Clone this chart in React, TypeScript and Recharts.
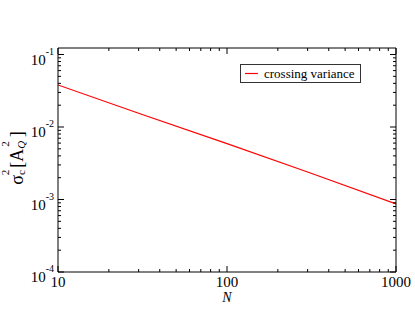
import React from "react";
import { LineChart, Line, XAxis, YAxis, Legend } from "recharts";

// crossing variance vs N (log-log)
const nValues = [10, 30, 100, 300, 1000];
const crossingVariance = [0.038, 0.0155, 0.0059, 0.0024, 0.00087];

const xMajor = [10, 100, 1000];
const yMajor = [1e-4, 1e-3, 1e-2, 1e-1];
const yExponents = ["-4", "-3", "-2", "-1"];
const seriesName = "crossing variance";

const data = nValues.map((n, i) => ({ n, variance: crossingVariance[i] }));

const withMinor = (majors: number[]) => {
  const out: number[] = [];
  majors.forEach((d, i) => {
    out.push(d);
    if (i < majors.length - 1) {
      for (let k = 2; k <= 9; k++) out.push(k * d);
    }
  });
  return out;
};

const xTicks = withMinor(xMajor);
const yTicks = withMinor(yMajor);
const xDomain = [10, 1000];
const yDomain = [1e-4, 0.123];

const isMajor = (v: number) =>
  Math.abs(Math.log10(v) - Math.round(Math.log10(v))) < 1e-9;

const FONT = "'Liberation Serif', 'Times New Roman', serif";
const MAJOR = 6;
const MINOR = 3;

const BottomTick = ({ x, y, payload }: any) => {
  const major = isMajor(payload.value);
  return (
    <g>
      <line x1={x} x2={x} y1={y} y2={y - (major ? MAJOR : MINOR)} stroke="#000" />
      {major && (
        <text x={x} y={y + 15} textAnchor="middle" fontSize={15} fontFamily={FONT} fill="#000">
          {payload.value}
        </text>
      )}
    </g>
  );
};

const TopTick = ({ x, y, payload }: any) => {
  const major = isMajor(payload.value);
  return <line x1={x} x2={x} y1={y} y2={y + (major ? MAJOR : MINOR)} stroke="#000" />;
};

const LeftTick = ({ x, y, payload }: any) => {
  const major = isMajor(payload.value);
  const idx = yMajor.findIndex((m) => Math.abs(Math.log10(m) - Math.log10(payload.value)) < 1e-9);
  return (
    <g>
      <line x1={x} x2={x + (major ? MAJOR : MINOR)} y1={y} y2={y} stroke="#000" />
      {major && (
        <text x={x - 4} y={y + 10} textAnchor="end" fontSize={15} fontFamily={FONT} fill="#000">
          10
          <tspan dy={-10} fontSize={10}>
            {yExponents[idx]}
          </tspan>
        </text>
      )}
    </g>
  );
};

const RightTick = ({ x, y, payload }: any) => {
  const major = isMajor(payload.value);
  return <line x1={x} x2={x - (major ? MAJOR : MINOR)} y1={y} y2={y} stroke="#000" />;
};

const YLabel = ({ viewBox }: any) => {
  const cy = viewBox.y + viewBox.height / 2 - 2;
  const cx = 23;
  return (
    <text
      x={cx}
      y={cy}
      transform={`rotate(-90, ${cx}, ${cy})`}
      textAnchor="middle"
      fontFamily={FONT}
      fontSize={18}
      fill="#000"
    >
      σ
      <tspan fontSize={11} dy={2}>c</tspan>
      <tspan fontSize={11} dx={-5} dy={-16}>2</tspan>
      <tspan dx={2} dy={14}>[A</tspan>
      <tspan fontSize={11} fontStyle="italic" dy={2}>Q</tspan>
      <tspan fontSize={11} dx={-6} dy={-16}>2</tspan>
      <tspan dx={4} dy={14}>]</tspan>
    </text>
  );
};

const XLabel = ({ viewBox }: any) => (
  <text
    x={viewBox.x + viewBox.width / 2}
    y={viewBox.y + 30}
    textAnchor="middle"
    fontFamily={FONT}
    fontSize={14}
    fontStyle="italic"
    fill="#000"
  >
    N
  </text>
);

const LegendBox = () => (
  <div
    style={{
      border: "1px solid #333",
      width: 119,
      height: 17,
      display: "flex",
      alignItems: "center",
      fontFamily: FONT,
      fontSize: 13,
      color: "#000",
      background: "#fff",
      boxSizing: "content-box",
    }}
  >
    <svg width={23} height={3} style={{ display: "block", flex: "none" }}>
      <line x1={4} x2={17} y1={1.5} y2={1.5} stroke="#ff0000" strokeWidth={1.2} />
    </svg>
    <span style={{ whiteSpace: "nowrap" }}>{seriesName}</span>
  </div>
);

const axisCommon = {
  type: "number" as const,
  scale: "log" as const,
  allowDataOverflow: true,
  interval: 0 as const,
  tickLine: false,
  tickSize: 0,
  tickMargin: 0,
  stroke: "#000",
};

export default function App() {
  return (
    <div style={{ position: "absolute", left: 0, top: 0, background: "#fff" }}>
      <LineChart
        width={415}
        height={321}
        data={data}
        margin={{ top: 47, right: 18, bottom: 48, left: 57 }}
      >
        <XAxis
          {...axisCommon}
          xAxisId="bottom"
          dataKey="n"
          domain={xDomain}
          ticks={xTicks}
          tick={<BottomTick />}
          height={1}
          label={{ content: XLabel } as any}
        />
        <XAxis
          {...axisCommon}
          xAxisId="top"
          orientation="top"
          dataKey="n"
          domain={xDomain}
          ticks={xTicks}
          tick={<TopTick />}
          height={1}
        />
        <YAxis
          {...axisCommon}
          yAxisId="left"
          domain={yDomain}
          ticks={yTicks}
          tick={<LeftTick />}
          width={1}
          label={{ content: YLabel } as any}
        />
        <YAxis
          {...axisCommon}
          yAxisId="right"
          orientation="right"
          domain={yDomain}
          ticks={yTicks}
          tick={<RightTick />}
          width={1}
        />
        <Line
          xAxisId="top"
          yAxisId="right"
          dataKey="variance"
          stroke="none"
          dot={false}
          legendType="none"
          isAnimationActive={false}
        />
        <Line
          xAxisId="bottom"
          yAxisId="left"
          dataKey="variance"
          name={seriesName}
          stroke="#ff0000"
          strokeWidth={1.2}
          dot={false}
          isAnimationActive={false}
        />
        <Legend
          layout="horizontal"
          verticalAlign="middle"
          align="center"
          content={<LegendBox />}
          wrapperStyle={{ position: "absolute", left: 240, top: 64, width: "auto" }}
        />
      </LineChart>
    </div>
  );
}
